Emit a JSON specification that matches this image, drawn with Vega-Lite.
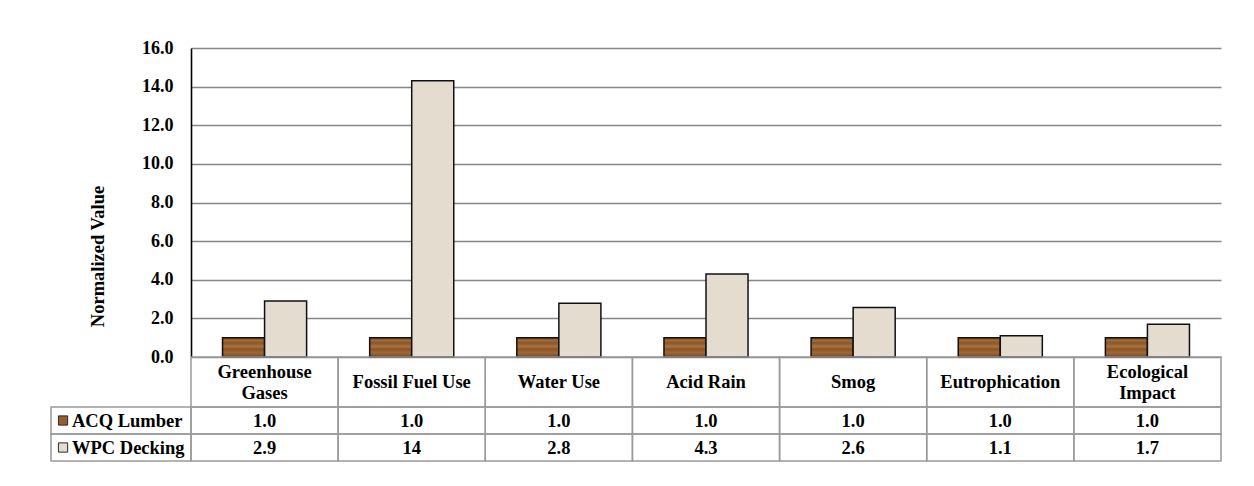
{
  "$schema": "https://vega.github.io/schema/vega-lite/v6.json",
  "width": 1030,
  "height": 413,
  "autosize": {"type": "none"},
  "padding": {"left": 191, "top": 48, "right": 33, "bottom": 25},
  "background": "white",
  "config": {"view": {"stroke": null}, "font": "Liberation Serif"},
  "data": {
    "values": [
      {"category": "Greenhouse\nGases", "series": "ACQ Lumber", "value": 1.0},
      {"category": "Fossil Fuel Use", "series": "ACQ Lumber", "value": 1.0},
      {"category": "Water Use", "series": "ACQ Lumber", "value": 1.0},
      {"category": "Acid Rain", "series": "ACQ Lumber", "value": 1.0},
      {"category": "Smog", "series": "ACQ Lumber", "value": 1.0},
      {"category": "Eutrophication", "series": "ACQ Lumber", "value": 1.0},
      {"category": "Ecological\nImpact", "series": "ACQ Lumber", "value": 1.0},
      {"category": "Greenhouse\nGases", "series": "WPC Decking", "value": 2.9},
      {"category": "Fossil Fuel Use", "series": "WPC Decking", "value": 14.3},
      {"category": "Water Use", "series": "WPC Decking", "value": 2.78},
      {"category": "Acid Rain", "series": "WPC Decking", "value": 4.3},
      {"category": "Smog", "series": "WPC Decking", "value": 2.56},
      {"category": "Eutrophication", "series": "WPC Decking", "value": 1.1},
      {"category": "Ecological\nImpact", "series": "WPC Decking", "value": 1.7}
    ]
  },
  "resolve": {"scale": {"x": "independent", "y": "independent"}},
  "layer": [
    {
      "mark": {"type": "bar", "stroke": "#111111", "strokeWidth": 1.5},
      "encoding": {
        "x": {"field": "category", "type": "nominal", "axis": null,
              "scale": {"domain": ["Greenhouse\nGases", "Fossil Fuel Use", "Water Use", "Acid Rain", "Smog", "Eutrophication", "Ecological\nImpact"], "paddingInner": 0, "paddingOuter": 0}},
        "xOffset": {"field": "series", "type": "nominal",
                    "scale": {"domain": ["ACQ Lumber", "WPC Decking"], "paddingInner": 0, "paddingOuter": 0.75}},
        "y": {"field": "value", "type": "quantitative",
              "scale": {"domain": [0, 16], "range": [309, 0], "nice": false, "zero": true},
              "axis": {"title": "Normalized Value", "values": [0, 2, 4, 6, 8, 10, 12, 14, 16], "format": ".1f",
                       "grid": true, "gridColor": "#868686", "gridWidth": 1.4,
                       "domain": true, "domainColor": "#000000", "domainWidth": 1.6,
                       "ticks": false, "tickSize": 0, "labelPadding": 18,
                       "labelFont": "Liberation Serif", "labelFontSize": 18, "labelFontWeight": "bold", "labelColor": "#000000",
                       "titleFont": "Liberation Serif", "titleFontSize": 18.5, "titleFontWeight": "bold", "titleColor": "#000000",
                       "titlePadding": 34, "titleY": 208}},
        "fill": {"condition": {"test": "datum.series === 'ACQ Lumber'",
                               "value": {"gradient": "linear", "x1": 0, "y1": 0, "x2": 0, "y2": 1,
                                         "stops": [{"offset": 0, "color": "#7E4C24"}, {"offset": 0.14, "color": "#A06A38"},
                                                   {"offset": 0.28, "color": "#8B5629"}, {"offset": 0.45, "color": "#A8733F"},
                                                   {"offset": 0.6, "color": "#8A5428"}, {"offset": 0.78, "color": "#9E6836"},
                                                   {"offset": 1, "color": "#7A4822"}]}},
                 "value": "#E3DCCF"}
      }
    },
    {
      "transform": [{"filter": "datum.series === 'ACQ Lumber'"}],
      "encoding": {
        "x": {"field": "category", "type": "nominal", "axis": null,
              "scale": {"domain": ["Greenhouse\nGases", "Fossil Fuel Use", "Water Use", "Acid Rain", "Smog", "Eutrophication", "Ecological\nImpact"], "paddingInner": 0, "paddingOuter": 0}},
        "y": {"datum": "header", "type": "nominal", "axis": null,
              "scale": {"domain": ["header"], "range": [309, 359], "paddingInner": 0, "paddingOuter": 0}}
      },
      "layer": [
        {"mark": {"type": "rect", "fillOpacity": 0, "fill": "white", "stroke": "#9a9a9a", "strokeWidth": 1.5}},
        {"transform": [{"filter": "indexof(datum.category, '\\n') < 0"}],
         "mark": {"type": "text", "font": "Liberation Serif", "fontSize": 18.5, "fontWeight": "bold", "color": "#000000", "baseline": "middle"},
         "encoding": {"text": {"field": "category", "type": "nominal"}}},
        {"transform": [{"filter": "indexof(datum.category, '\\n') >= 0"}],
         "mark": {"type": "text", "font": "Liberation Serif", "fontSize": 18.5, "fontWeight": "bold", "color": "#000000", "lineBreak": "\n", "lineHeight": 21, "baseline": "middle", "dy": -10.5},
         "encoding": {"text": {"field": "category", "type": "nominal"}}}
      ]
    },
    {
      "encoding": {
        "x": {"field": "category", "type": "nominal", "axis": null,
              "scale": {"domain": ["Greenhouse\nGases", "Fossil Fuel Use", "Water Use", "Acid Rain", "Smog", "Eutrophication", "Ecological\nImpact"], "paddingInner": 0, "paddingOuter": 0}},
        "y": {"field": "series", "type": "nominal", "axis": null,
              "scale": {"domain": ["ACQ Lumber", "WPC Decking"], "range": [359, 413], "paddingInner": 0, "paddingOuter": 0}}
      },
      "layer": [
        {"mark": {"type": "rect", "fillOpacity": 0, "fill": "white", "stroke": "#9a9a9a", "strokeWidth": 1.5}},
        {"mark": {"type": "text", "font": "Liberation Serif", "fontSize": 18.5, "fontWeight": "bold", "color": "#000000", "baseline": "middle"},
         "encoding": {"text": {"field": "value", "type": "quantitative", "format": ".2r"}}}
      ]
    },
    {
      "transform": [{"filter": "datum.category === 'Smog'"}],
      "encoding": {
        "y": {"field": "series", "type": "nominal", "axis": null,
              "scale": {"domain": ["ACQ Lumber", "WPC Decking"], "range": [359, 413], "paddingInner": 0, "paddingOuter": 0}}
      },
      "layer": [
        {"mark": {"type": "rect", "fillOpacity": 0, "fill": "white", "stroke": "#9a9a9a", "strokeWidth": 1.5},
         "encoding": {"x": {"datum": "label", "type": "nominal", "axis": null,
                            "scale": {"domain": ["label"], "range": [-140, 0], "paddingInner": 0, "paddingOuter": 0}}}},
        {"mark": {"type": "point", "shape": "square", "filled": true, "size": 85, "stroke": "#2a2a2a", "strokeWidth": 1, "opacity": 1},
         "encoding": {"x": {"datum": "label", "type": "nominal", "axis": null, "bandPosition": 0.086,
                            "scale": {"domain": ["label"], "range": [-140, 0], "paddingInner": 0, "paddingOuter": 0}},
                      "color": {"field": "series", "type": "nominal",
                                "scale": {"domain": ["ACQ Lumber", "WPC Decking"], "range": ["#935F31", "#E3DCCF"]}, "legend": null}}},
        {"mark": {"type": "text", "align": "left", "baseline": "middle", "font": "Liberation Serif", "fontSize": 18.5, "fontWeight": "bold", "color": "#000000"},
         "encoding": {"x": {"datum": "label", "type": "nominal", "axis": null, "bandPosition": 0.15,
                            "scale": {"domain": ["label"], "range": [-140, 0], "paddingInner": 0, "paddingOuter": 0}},
                      "text": {"field": "series", "type": "nominal"}}}
      ]
    }
  ]
}
